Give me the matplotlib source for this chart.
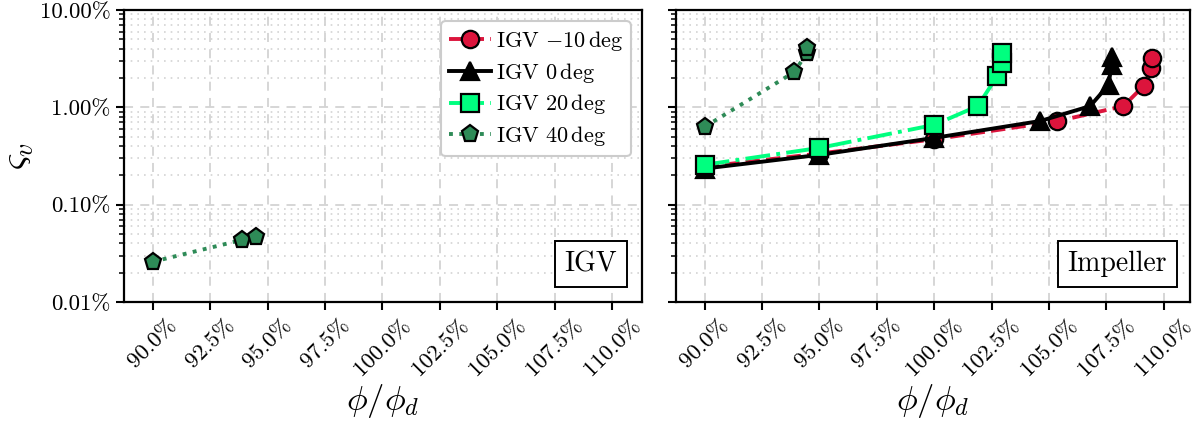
import matplotlib
matplotlib.use("Agg")
import matplotlib.pyplot as plt
import matplotlib.ticker as mticker
import numpy as np

plt.rcParams['font.family'] = 'serif'
plt.rcParams['font.serif'] = ['cmr10']
plt.rcParams['mathtext.fontset'] = 'cm'
plt.rcParams['axes.formatter.use_mathtext'] = True

# ---- data (phi/phi_d in %, varsigma_v in %) ----
igv_40_x = [90.0, 93.9, 94.5]
igv_40_y = [0.0259, 0.0435, 0.047]

imp_m10_x = [90.0, 95.0, 100.0, 105.37, 108.25, 109.13, 109.47, 109.5]
imp_m10_y = [0.245, 0.335, 0.47, 0.72, 1.03, 1.66, 2.54, 3.25]

imp_0_x = [90.0, 95.0, 100.0, 104.63, 106.8, 107.6, 107.73, 107.73]
imp_0_y = [0.235, 0.325, 0.485, 0.724, 1.03, 1.70, 2.73, 3.29]

imp_20_x = [90.0, 95.0, 100.0, 101.9, 102.75, 102.97, 102.97]
imp_20_y = [0.257, 0.383, 0.66, 1.03, 2.1, 2.86, 3.6]

imp_40_x = [90.0, 93.9, 94.45, 94.45]
imp_40_y = [0.63, 2.3, 3.6, 4.05]

labels = [r'IGV $-10\,$deg', r'IGV $0\,$deg', r'IGV $20\,$deg', r'IGV $40\,$deg']
xticks = [90.0, 92.5, 95.0, 97.5, 100.0, 102.5, 105.0, 107.5, 110.0]
yticks = [0.01, 0.1, 1.0, 10.0]

styles = [
    dict(color='#DC143C', ls='--', marker='o', mfc='#DC143C'),
    dict(color='black', ls='-', marker='^', mfc='black'),
    dict(color='#00FF7F', ls='-.', marker='s', mfc='#00FF7F'),
    dict(color='#2E8B57', ls=':', marker='p', mfc='#2E8B57'),
]
common = dict(lw=2.8, ms=12.5, mec='black', mew=1.6)

fig = plt.figure(figsize=(11.99, 4.25), dpi=100)
ax1 = fig.add_axes([124/1199, 1-302/425, 518/1199, 292/425])
ax2 = fig.add_axes([676/1199, 1-302/425, 514/1199, 292/425], sharey=ax1)

ax1.plot([], [], label=labels[0], **styles[0], **common)
ax1.plot([], [], label=labels[1], **styles[1], **common)
ax1.plot([], [], label=labels[2], **styles[2], **common)
ax1.plot(igv_40_x, igv_40_y, label=labels[3], **styles[3], **common)

ax2.plot(imp_m10_x, imp_m10_y, **styles[0], **common)
ax2.plot(imp_0_x, imp_0_y, **styles[1], **common)
ax2.plot(imp_20_x, imp_20_y, **styles[2], **common)
ax2.plot(imp_40_x, imp_40_y, **styles[3], **common)

for ax, name, xr in [(ax1, 'IGV', 0.952), (ax2, 'Impeller', 0.955)]:
    ax.set_yscale('log')
    ax.set_ylim(0.01, 10.0)
    ax.set_xlim(88.75, 111.3 if ax is ax1 else 111.15)
    ax.set_xticks(xticks)
    ax.xaxis.set_major_formatter(mticker.FuncFormatter(lambda v, p: f'{v:.1f}%'))
    ax.set_yticks(yticks)
    ax.yaxis.set_major_formatter(mticker.FuncFormatter(lambda v, p: f'{v:.2f}%'))
    ax.yaxis.set_minor_locator(mticker.LogLocator(base=10, subs=np.arange(2, 10)))
    ax.yaxis.set_minor_formatter(mticker.NullFormatter())
    ax.grid(True, which='major', ls=(0, (5, 4)), color='#d3d3d3', lw=1.3)
    ax.grid(True, which='minor', axis='y', ls=(0, (1, 3)), color='#d3d3d3', lw=1.2)
    ax.set_axisbelow(True)
    for s in ax.spines.values():
        s.set_linewidth(1.6)
    ax.tick_params(axis='both', which='major', direction='out', length=6, width=1.5, labelsize=16.5)
    ax.tick_params(axis='y', which='minor', direction='out', length=3.5, width=1.1)
    for lab in ax.get_xticklabels():
        lab.set_rotation(45)
    ax.set_xlabel(r'$\phi/\phi_d$', fontsize=25, labelpad=2)
    ax.text(xr, 0.085, name, transform=ax.transAxes, ha='right', va='bottom', fontsize=20,
            bbox=dict(boxstyle='square,pad=0.35', fc='white', ec='black', lw=1.4))

plt.setp(ax2.get_yticklabels(), visible=False)
ax1.set_ylabel(r'$\varsigma_v$', fontsize=27, labelpad=3)

leg = ax1.legend(loc='upper right', fontsize=16, frameon=True, fancybox=True,
                 edgecolor='#cccccc', framealpha=1.0, borderpad=0.35, handlelength=1.9,
                 handletextpad=0.2, labelspacing=0.35, borderaxespad=0.5)
leg.get_frame().set_linewidth(1.5)

fig.savefig('out.png', dpi=100)
